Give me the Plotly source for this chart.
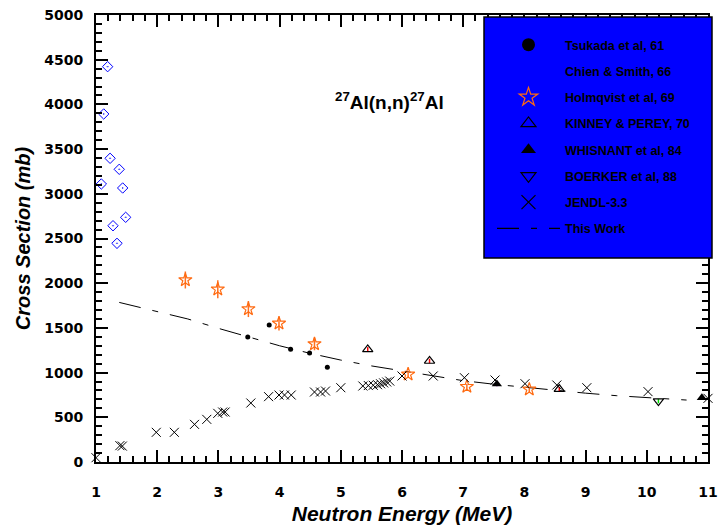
import plotly.graph_objects as go

# ---------------- data ----------------
tsukada_x = [3.48, 3.83, 4.18, 4.49, 4.78]
tsukada_y = [1398, 1532, 1260, 1219, 1059]

chien_x = [1.087, 1.126, 1.19, 1.23, 1.278, 1.343, 1.38, 1.436, 1.485]
chien_y = [3110, 3893, 4422, 3397, 2643, 2446, 3274, 3065, 2737]

holm_x = [2.46, 2.99, 3.49, 3.99, 4.57, 6.10, 7.06, 8.08]
holm_y = [2036, 1932, 1711, 1551, 1320, 981, 843, 813]
holm_err = [95, 100, 90, 80, 70, 30, 30, 30]

kinney_x = [5.44, 6.45, 8.57]
kinney_y = [1260, 1130, 816]
kinney_err = [25, 25, 25]

whis_x = [7.55, 10.9]
whis_y = [872, 719]
whis_err = [25, 25]

boerker_x = [10.19]
boerker_y = [682]
boerker_err = [25]

jendl_x = [1.0, 1.39, 1.43, 1.985, 2.28, 2.61, 2.81, 2.99, 3.07, 3.11, 3.53, 3.82,
           3.99, 4.08, 4.19, 4.57, 4.67, 4.75, 5.0, 5.36, 5.45, 5.53, 5.6, 5.65,
           5.7, 5.75, 5.8, 6.0, 6.51, 7.02, 7.52, 8.01, 8.53, 9.02, 10.02, 11.0]
jendl_y = [48, 183, 178, 332, 332, 421, 477, 544, 559, 559, 660, 731,
           749, 749, 749, 783, 783, 794, 831, 850, 855, 858, 865, 875,
           885, 895, 905, 962, 962, 943, 917, 876, 861, 831, 787, 712]

tw_x = [1.38, 2.0, 2.5, 3.0, 3.5, 4.0, 4.5, 5.0, 5.5, 6.0, 6.5, 7.0, 7.5, 8.0,
        8.5, 9.0, 9.5, 10.0, 10.65]
tw_y = [1785, 1680, 1600, 1495, 1395, 1300, 1215, 1140, 1075, 1020, 960, 910,
        870, 835, 800, 770, 742, 718, 693]

labels = ["Tsukada et al, 61", "Chien & Smith, 66", "Holmqvist et al, 69",
          "KINNEY & PEREY, 70", "WHISNANT et al, 84", "BOERKER et al, 88",
          "JENDL-3.3", "This Work"]

TW_DASH = "22px,12px,6px,12px"
ORANGE = "#ff6a10"

# ---------------- figure ----------------
fig = go.Figure()

# data traces (not in legend)
fig.add_trace(go.Scatter(x=tsukada_x, y=tsukada_y, mode="markers", showlegend=False,
                         marker=dict(symbol="circle", size=5, color="black")))
fig.add_trace(go.Scatter(x=chien_x, y=chien_y, mode="markers", showlegend=False,
                         marker=dict(symbol="diamond-open-dot", size=8, color="#0000ff",
                                     line=dict(width=1))))
fig.add_trace(go.Scatter(x=tw_x, y=tw_y, mode="lines", showlegend=False,
                         line=dict(color="black", width=1, dash=TW_DASH)))
fig.add_trace(go.Scatter(x=holm_x, y=holm_y, mode="markers", showlegend=False,
                         error_y=dict(type="data", array=holm_err, color="#ff7020",
                                      thickness=1.5, width=0),
                         marker=dict(symbol="star-open", size=10, color=ORANGE,
                                     line=dict(width=1.2))))
fig.add_trace(go.Scatter(x=kinney_x, y=kinney_y, mode="markers", showlegend=False,
                         error_y=dict(type="data", array=kinney_err, color="red",
                                      thickness=1.5, width=0),
                         marker=dict(symbol="triangle-up-open", size=9, color="black",
                                     line=dict(width=1.2))))
fig.add_trace(go.Scatter(x=whis_x, y=whis_y, mode="markers", showlegend=False,
                         error_y=dict(type="data", array=whis_err, color="#8000c0",
                                      thickness=1.5, width=0),
                         marker=dict(symbol="triangle-up", size=9, color="black")))
fig.add_trace(go.Scatter(x=boerker_x, y=boerker_y, mode="markers", showlegend=False,
                         error_y=dict(type="data", array=boerker_err, color="#00e000",
                                      thickness=1.5, width=0),
                         marker=dict(symbol="triangle-down-open", size=9, color="black",
                                     line=dict(width=1.2))))
fig.add_trace(go.Scatter(x=jendl_x, y=jendl_y, mode="markers", showlegend=False,
                         cliponaxis=False,
                         marker=dict(symbol="x-thin-open", size=9, color="black",
                                     line=dict(width=1, color="black"))))

# legend entries (legend-sized symbols)
legend_markers = [
    dict(symbol="circle", size=13, color="black"),
    dict(symbol="diamond-open-dot", size=10, color="#0000ff", line=dict(width=1)),
    dict(symbol="star-open", size=14, color=ORANGE, line=dict(width=1.2)),
    dict(symbol="triangle-up-open", size=13, color="black", line=dict(width=1.2)),
    dict(symbol="triangle-up", size=13, color="black"),
    dict(symbol="triangle-down-open", size=13, color="black", line=dict(width=1.2)),
    dict(symbol="x-thin-open", size=14, color="black", line=dict(width=1.2, color="black")),
]
for i, mk in enumerate(legend_markers):
    fig.add_trace(go.Scatter(x=[None], y=[None], mode="markers", name=labels[i],
                             legendgroup=f"g{i}", marker=mk))
fig.add_trace(go.Scatter(x=[None], y=[None], mode="lines", name=labels[7],
                         legendgroup="g7",
                         line=dict(color="black", width=1.2, dash=TW_DASH)))

axis_common = dict(
    showline=True, linewidth=2, linecolor="black", mirror="allticks",
    ticks="inside", ticklen=12, tickwidth=2, tickcolor="black",
    showgrid=False, zeroline=False, automargin=False,
    tickfont=dict(family="DejaVu Sans", size=14, color="black", weight="bold"),
)

fig.update_xaxes(range=[1, 11], dtick=1, tick0=1,
                 minor=dict(dtick=0.2, ticklen=6, tickwidth=1.5, ticks="inside",
                            tickcolor="black"),
                 ticklabelstandoff=16,
                 title=dict(text="Neutron Energy (MeV)", standoff=8,
                            font=dict(family="Liberation Sans", size=21, color="black",
                                      weight="bold", style="italic")),
                 **axis_common)
fig.update_yaxes(range=[0, 5000], dtick=500, tick0=0,
                 minor=dict(dtick=100, ticklen=6, tickwidth=1.5, ticks="inside",
                            tickcolor="black"),
                 ticklabelstandoff=8,
                 title=dict(text="Cross Section (mb)", standoff=8,
                            font=dict(family="Liberation Sans", size=20, color="black",
                                      weight="bold", style="italic")),
                 **axis_common)

# legend box
fig.add_shape(type="rect", xref="paper", yref="paper",
              x0=(484 - 96) / 612, x1=(712 - 96) / 612,
              y0=(462 - 258) / 447, y1=(462 - 17) / 447,
              fillcolor="#0000ff", line=dict(color="black", width=1.5), layer="above")

fig.add_annotation(text="<sup>27</sup>Al(n,n)<sup>27</sup>Al", xref="x", yref="y",
                   x=5.80, y=4040, showarrow=False,
                   font=dict(family="Liberation Sans", size=19, color="black",
                             weight="bold"))

fig.update_layout(
    width=721, height=530,
    margin=dict(l=96, r=13, t=15, b=68),
    paper_bgcolor="white", plot_bgcolor="white",
    legend=dict(x=(492 - 96) / 612, y=(462 - 30) / 447, xanchor="left", yanchor="top",
                bgcolor="rgba(0,0,0,0)", borderwidth=0,
                tracegroupgap=7, itemsizing="trace", itemwidth=63,
                font=dict(family="Liberation Sans", size=12.5, color="black",
                          weight="bold")),
)

fig.write_html("out.html")
